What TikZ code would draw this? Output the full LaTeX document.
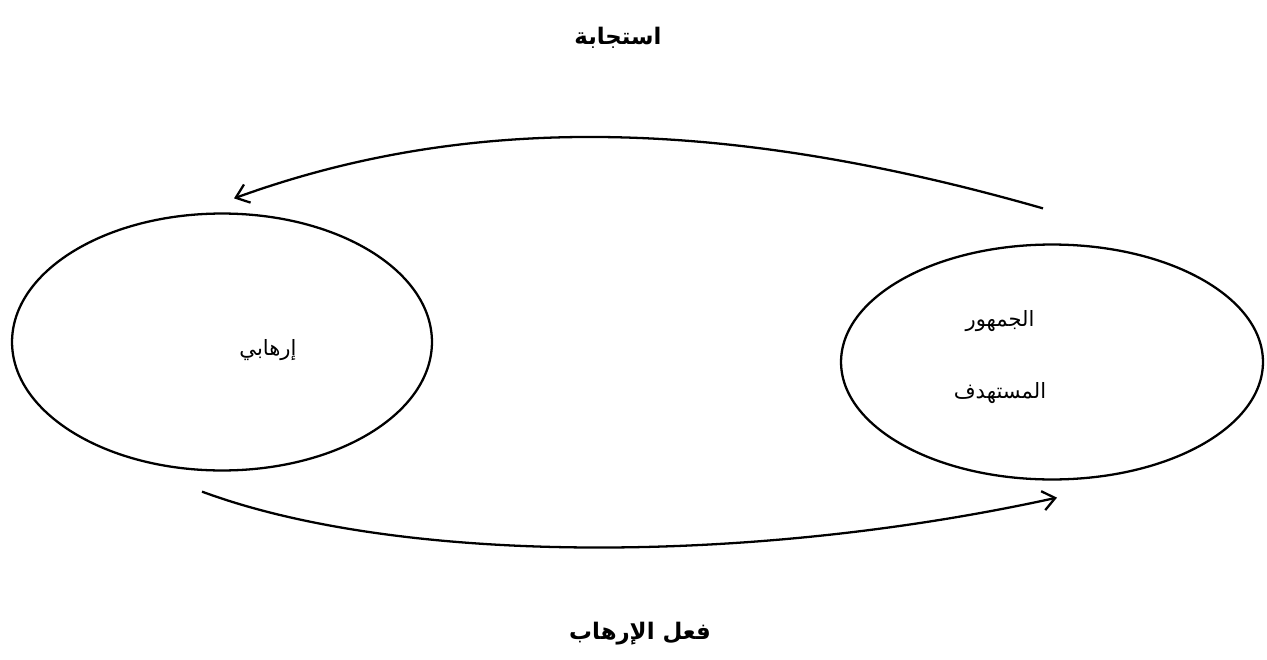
\documentclass[tikz,border=0pt]{standalone}
\usepackage{fontspec}
\usepackage{tikz}
\usetikzlibrary{shapes.geometric, arrows.meta, positioning, calc}
\newfontfamily\arabicfont[Script=Arabic]{DejaVu Sans}
\TeXXeTstate=1

\begin{document}
\begin{tikzpicture}[
  x=0.02cm, y=-0.02cm,
  blob/.style={ellipse, draw=black, line width=1.3pt, inner sep=0pt},
  txt/.style={font=\arabicfont\fontsize{12}{14}\selectfont, align=center},
  lbl/.style={font=\arabicfont\bfseries\fontsize{13}{15}\selectfont},
  arr/.style={-{Straight Barb[length=7pt, width=11pt]}, line width=1.3pt},
]
\useasboundingbox (0,0) rectangle (1267,659);

% the two parties
\node[blob, minimum width=8.4cm, minimum height=5.14cm] (terr) at (222,342) {};
\node[blob, minimum width=8.44cm, minimum height=4.7cm] (aud)  at (1052,362) {};
\node[txt] (terrtxt) at (268,350) {\beginR إرهابي\endR};
\node[txt] (audtxt)  at (1000,357) {\beginR الجمهور\endR\\[0.95cm]\beginR المستهدف\endR};

% labels
\node[lbl] (resp) at (618,38)  {\beginR استجابة\endR};
\node[lbl] (act)  at (640,634) {\beginR فعل الإرهاب\endR};

% free ends of the arrows
\coordinate (respfrom) at ($(aud.north)+(-9,-35)$);
\coordinate (respto)   at ($(terr.north)+(12,-14)$);
\coordinate (actfrom)  at ($(terr.south)+(-20,20)$);
\coordinate (actto)    at ($(aud.south)+(5,17)$);

\draw[arr] (respfrom) .. controls (700,110) and (450,120) .. (respto);
\draw[arr] (actfrom)  .. controls (400,565) and (750,565) .. (actto);

\end{tikzpicture}
\end{document}
